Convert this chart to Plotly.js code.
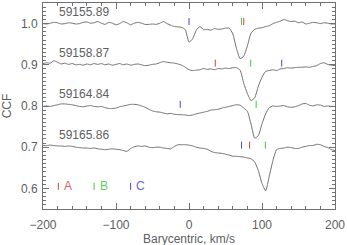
<!DOCTYPE html>
<html><head><meta charset="utf-8">
<script src="https://cdn.plot.ly/plotly-3.0.1.min.js"></script>
<style>html,body{margin:0;padding:0;background:#fff;}#chart{width:347px;height:245px;}</style>
</head><body><div id="chart"></div>
<script>
// velocity grid (km/s)
const velocity = [-200,-195,-190,-185,-180,-175,-170,-165,-160,-155,-150,-145,-140,-135,-130,-125,-120,-115,-110,-105,-100,-95,-90,-85,-80,-75,-70,-65,-60,-55,-50,-45,-40,-35,-30,-25,-20,-15,-10,-5,0,5,10,15,20,25,30,35,40,45,50,55,60,65,70,75,80,85,90,95,100,105,110,115,120,125,130,135,140,145,150,155,160,165,170,175,180,185,190,195,200];

const ccf_59155 = [1.000,0.999,1.001,1.003,1.002,0.999,1.000,1.002,1.001,0.999,1.000,1.003,1.004,1.001,1.002,1.005,1.001,0.998,1.003,1.001,0.997,1.000,1.005,1.002,0.997,1.001,1.003,1.001,0.998,0.998,0.999,0.998,1.001,1.005,1.000,0.996,0.993,0.992,0.991,0.985,0.955,0.963,0.984,0.993,0.985,0.986,0.984,0.988,0.986,0.987,0.989,0.989,0.975,0.940,0.915,0.921,0.946,0.977,0.986,0.989,0.990,0.993,0.995,1.000,1.003,1.006,1.010,1.007,1.005,1.006,1.002,1.004,0.999,1.001,1.003,1.002,1.000,1.002,1.001,0.999,0.999];

const ccf_59158 = [0.903,0.905,0.904,0.910,0.906,0.902,0.904,0.901,0.903,0.900,0.901,0.899,0.902,0.900,0.903,0.901,0.903,0.900,0.902,0.899,0.901,0.903,0.900,0.902,0.899,0.901,0.902,0.900,0.898,0.899,0.901,0.902,0.905,0.908,0.906,0.905,0.904,0.902,0.899,0.894,0.888,0.886,0.887,0.888,0.891,0.889,0.890,0.888,0.891,0.890,0.892,0.891,0.893,0.893,0.887,0.855,0.830,0.813,0.820,0.848,0.870,0.884,0.886,0.888,0.886,0.890,0.891,0.893,0.892,0.893,0.894,0.894,0.895,0.894,0.896,0.898,0.903,0.905,0.901,0.899,0.898];

const ccf_59164 = [0.799,0.800,0.799,0.801,0.803,0.805,0.805,0.804,0.803,0.801,0.799,0.798,0.800,0.801,0.799,0.798,0.799,0.796,0.794,0.794,0.795,0.798,0.800,0.802,0.804,0.804,0.803,0.800,0.797,0.792,0.788,0.786,0.785,0.783,0.781,0.782,0.780,0.779,0.779,0.778,0.777,0.778,0.781,0.783,0.785,0.787,0.790,0.791,0.792,0.795,0.797,0.799,0.801,0.803,0.802,0.795,0.787,0.756,0.722,0.728,0.757,0.781,0.796,0.800,0.799,0.800,0.801,0.798,0.797,0.798,0.801,0.805,0.806,0.802,0.800,0.803,0.802,0.799,0.800,0.799,0.799];

const ccf_59165 = [0.704,0.704,0.705,0.704,0.703,0.703,0.702,0.703,0.702,0.700,0.699,0.698,0.698,0.697,0.698,0.696,0.695,0.694,0.695,0.696,0.695,0.694,0.692,0.690,0.697,0.701,0.703,0.702,0.703,0.700,0.699,0.700,0.700,0.698,0.697,0.696,0.702,0.706,0.706,0.706,0.705,0.703,0.700,0.698,0.697,0.695,0.690,0.687,0.686,0.685,0.683,0.681,0.678,0.678,0.677,0.676,0.674,0.672,0.664,0.643,0.612,0.594,0.630,0.668,0.694,0.697,0.698,0.700,0.699,0.697,0.697,0.700,0.702,0.704,0.704,0.707,0.706,0.702,0.699,0.694,0.692];

const epochLabels = ['59155.89','59158.87','59164.84','59165.86'];
const epochLabelY = [1.028, 0.9285, 0.830, 0.7285];

// component velocity markers
const compA_x = [75, 36, 83];
const compA_y = [1.005, 0.904, 0.705];
const compB_x = [72, 84.5, 92, 104.6];
const compB_y = [1.005, 0.904, 0.804, 0.705];
const compC_x = [0, 127, -12, 72];
const compC_y = [1.005, 0.904, 0.804, 0.705];

const keyNames = ['A','B','C'];
const keyX = [-179, -130, -80];
const keyY = 0.605;
const colA = '#d83c3c', colB = '#3cc83c', colC = '#4646d8';
const keyTextCol = ['#e06464','#5ad25a','#6464e0'];

const FONT = 'Liberation Sans, Arial, sans-serif';
const TXT = '#606060';

const series = [ccf_59155, ccf_59158, ccf_59164, ccf_59165];
const traces = series.map(s => ({
  x: velocity, y: s, type: 'scatter', mode: 'lines',
  line: {color: '#707070', width: 1, shape: 'spline', smoothing: 0.5},
  hoverinfo: 'skip', showlegend: false
}));
function tickTrace(xs, ys, c) {
  return {x: xs, y: ys, type: 'scatter', mode: 'markers', showlegend: false, hoverinfo: 'skip',
    marker: {symbol: 'line-ns-open', size: 5, color: c, line: {color: c, width: 1}}};
}
traces.push(tickTrace(compA_x, compA_y, colA));
traces.push(tickTrace(compB_x, compB_y, colB));
traces.push(tickTrace(compC_x, compC_y, colC));
const keyCols = [colA, colB, colC];
keyX.forEach((kx, i) => traces.push(tickTrace([kx], [keyY], keyCols[i])));

const annotations = epochLabels.map((t, i) => ({
  x: -181, y: epochLabelY[i], xref: 'x', yref: 'y', text: t, showarrow: false,
  xanchor: 'left', yanchor: 'middle', font: {family: FONT, size: 12, color: TXT}
}));
keyNames.forEach((t, i) => annotations.push({
  x: keyX[i] + 5, y: keyY, xref: 'x', yref: 'y', text: t, showarrow: false,
  xanchor: 'left', yanchor: 'middle', font: {family: FONT, size: 12, color: keyTextCol[i]}
}));
annotations.push({
  x: 0.5, y: -0.145, xref: 'paper', yref: 'paper', text: 'Barycentric, km/s', showarrow: false,
  xanchor: 'center', yanchor: 'middle', font: {family: FONT, size: 12, color: TXT}
});

const axisCommon = {
  showgrid: false, zeroline: false, showline: true, linecolor: '#707070', linewidth: 1,
  mirror: 'allticks', ticks: 'inside', ticklen: 6, tickcolor: '#707070', tickwidth: 1,
  tickfont: {family: FONT, size: 12, color: TXT}
};
const layout = {
  width: 347, height: 245,
  margin: {l: 43, r: 12, t: 3, b: 36},
  paper_bgcolor: '#fff', plot_bgcolor: '#fff',
  xaxis: Object.assign({}, axisCommon, {
    range: [-200, 200], tickvals: [-200, -100, 0, 100, 200], ticklabelstandoff: 5,
    minor: {dtick: 20, ticks: 'inside', ticklen: 3, tickcolor: '#707070', showgrid: false}
  }),
  yaxis: Object.assign({}, axisCommon, {
    range: [0.55, 1.05], tickvals: [0.6, 0.7, 0.8, 0.9, 1.0], tickformat: '.1f', ticklabelstandoff: 2,
    minor: {dtick: 0.01, tick0: 0.5, ticks: 'inside', ticklen: 3, tickcolor: '#707070', showgrid: false},
    title: {text: 'CCF', standoff: 6, font: {family: FONT, size: 12, color: TXT}}
  }),
  annotations: annotations
};
Plotly.newPlot('chart', traces, layout, {displayModeBar: false, staticPlot: true});
</script></body></html>
